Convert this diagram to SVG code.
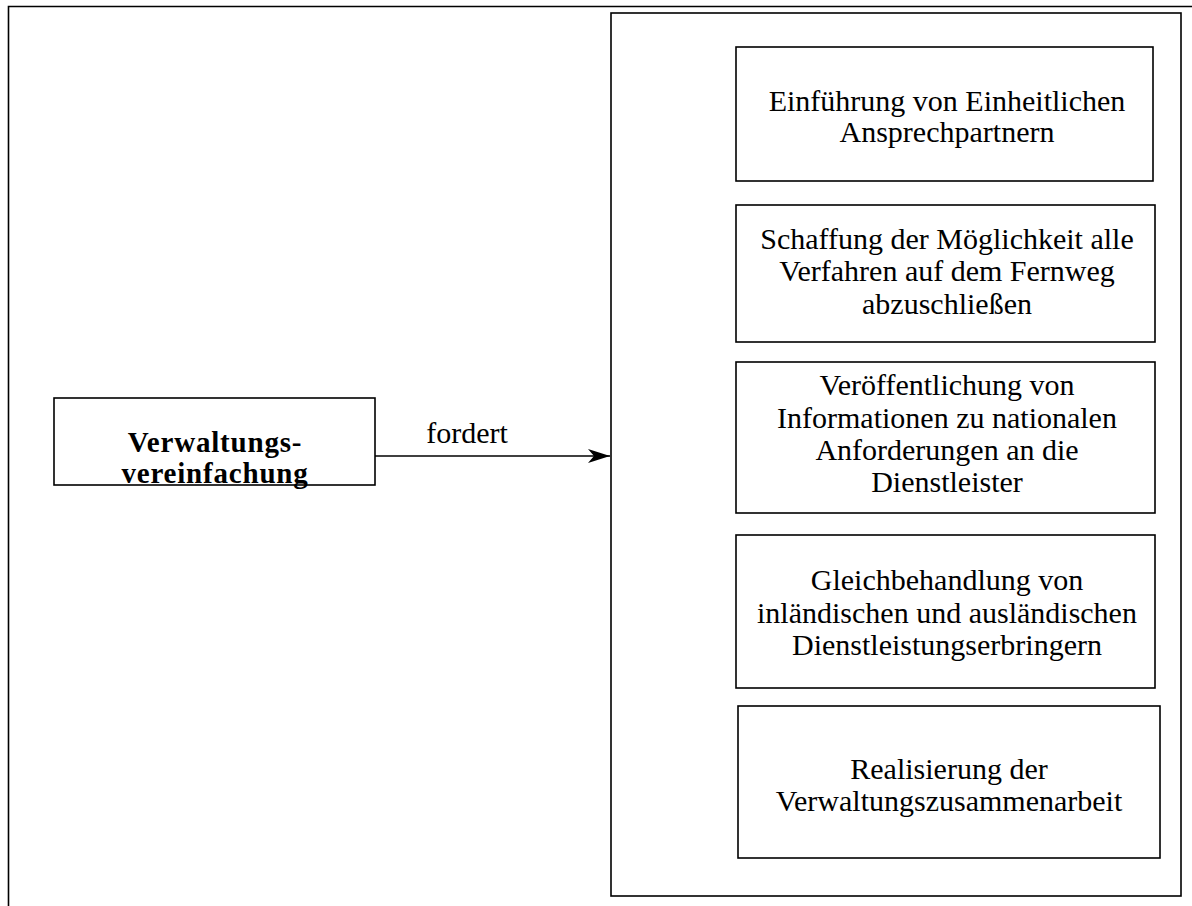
<svg xmlns="http://www.w3.org/2000/svg" width="1192" height="906" viewBox="0 0 1192 906">
  <defs>
    <marker id="open-arrow" viewBox="0 0 24 16" refX="23" refY="8" markerWidth="24" markerHeight="16" markerUnits="userSpaceOnUse" orient="auto">
      <path d="M1,1 L23,8 L1,15 L7,8 Z" fill="#000"/>
    </marker>
  </defs>
  <style>
    .box { fill: #fff; stroke: #000; stroke-width: 1.6; }
    .frame { fill: none; stroke: #000; stroke-width: 1.6; }
    .lbl { font-family: "Liberation Serif", "Times New Roman", serif; font-size: 30px; fill: #000; text-anchor: middle; }
    .bold { font-weight: bold; font-size: 29px; letter-spacing: 0.8px; }
    .edge { stroke: #000; stroke-width: 1.6; fill: none; }
  </style>
  <rect width="1192" height="906" fill="#fff"/>

  <!-- outer frame -->
  <path class="frame" d="M8.5,912 V6.5 H1200"/>

  <!-- container of measures -->
  <g id="measures">
    <rect class="box" x="611" y="13" width="570" height="883"/>
  </g>

  <g id="source">
    <rect class="box" x="54" y="398" width="321" height="87"/>
    <text class="lbl bold" x="215" y="452">Verwaltungs-</text>
    <text class="lbl bold" x="215" y="483">vereinfachung</text>
  </g>

  <g id="m1">
    <rect class="box" x="736" y="47" width="417" height="134"/>
    <text class="lbl" x="947" y="111">Einführung von Einheitlichen</text>
    <text class="lbl" x="947" y="142">Ansprechpartnern</text>
  </g>

  <g id="m2">
    <rect class="box" x="736" y="205" width="419" height="137"/>
    <text class="lbl" x="947" y="249">Schaffung der Möglichkeit alle</text>
    <text class="lbl" x="947" y="281">Verfahren auf dem Fernweg</text>
    <text class="lbl" x="947" y="314">abzuschließen</text>
  </g>

  <g id="m3">
    <rect class="box" x="736" y="362" width="419" height="151"/>
    <text class="lbl" x="947" y="395">Veröffentlichung von</text>
    <text class="lbl" x="947" y="428">Informationen zu nationalen</text>
    <text class="lbl" x="947" y="460">Anforderungen an die</text>
    <text class="lbl" x="947" y="492">Dienstleister</text>
  </g>

  <g id="m4">
    <rect class="box" x="736" y="535" width="419" height="153"/>
    <text class="lbl" x="947" y="590">Gleichbehandlung von</text>
    <text class="lbl" x="947" y="623">inländischen und ausländischen</text>
    <text class="lbl" x="947" y="655">Dienstleistungserbringern</text>
  </g>

  <g id="m5">
    <rect class="box" x="738" y="706" width="422" height="152"/>
    <text class="lbl" x="949" y="779">Realisierung der</text>
    <text class="lbl" x="949" y="811">Verwaltungszusammenarbeit</text>
  </g>

  <g id="connectors">
    <line class="edge" x1="375" y1="456" x2="610" y2="456" marker-end="url(#open-arrow)"/>
    <text class="lbl" x="467" y="443">fordert</text>
  </g>
</svg>
